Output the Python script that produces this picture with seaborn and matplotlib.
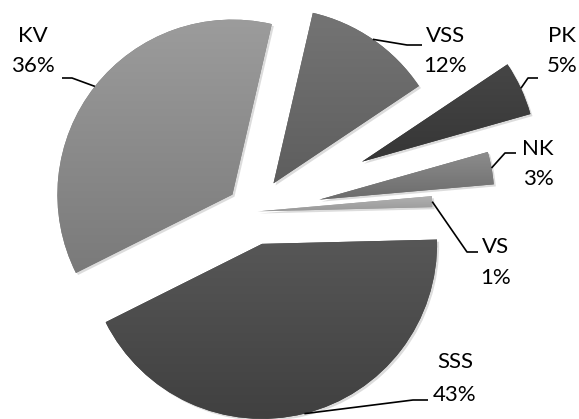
import numpy as np
import matplotlib
matplotlib.use('Agg')
import matplotlib.pyplot as plt
import matplotlib.patheffects as pe
from matplotlib.colors import LinearSegmentedColormap
import seaborn as sns

# ── Data ──────────────────────────────────────────────────────────────────
labels = ['VSS', 'PK', 'NK', 'VS', 'SSS', 'KV']
values = [12, 5, 3, 1, 43, 36]

# ── Style ─────────────────────────────────────────────────────────────────
sns.set_theme(style='white')
plt.rcParams['font.family'] = ['Lato', 'DejaVu Sans']

W, H = 579, 419
cx, cy, R = 254, 211.6, 175          # pie centre / radius in pixels

explode = [0.196, 0.68, 0.38, 0.02, 0.19, 0.157]
grads = [('#747474', '#5e5e5e'),     # VSS
         ('#464646', '#363636'),     # PK
         ('#8c8c8c', '#6c6c6c'),     # NK
         ('#b2b2b2', '#9a9a9a'),     # VS
         ('#575757', '#404040'),     # SSS
         ('#9c9c9c', '#7a7a7a')]     # KV

# label layout in pixels: text centre x, baselines of the two lines, elbow, line end
layout = {
    'VSS': (445, 42, 72, (407, 45), (422, 45)),
    'PK':  (562, 42, 72, (528, 78), (538, 78)),
    'NK':  (538, 155, 185, (505, 153), (516, 153)),
    'VS':  (496, 253, 284, (467, 252), (478, 252)),
    'SSS': (455, 368, 401, (413, 400), (428, 400)),
    'KV':  (33, 42, 72, (72, 78), (62, 78)),
}


def px(x, y):
    return (x - cx) / R, (cy - y) / R


fig = plt.figure(figsize=(W / 100, H / 100), dpi=100)
ax = fig.add_axes([0, 0, 1, 1])

wedges, _ = ax.pie(values, explode=explode, startangle=77, counterclock=False,
                   radius=1, wedgeprops=dict(linewidth=0))

for w, (c_top, c_bot) in zip(wedges, grads):
    w.set_facecolor(c_bot)
    w.set_path_effects([pe.SimplePatchShadow(offset=(1.5, -1.5), shadow_rgbFace='k', alpha=0.15),
                        pe.Normal()])
    bb = w.get_path().get_extents()
    cmap = LinearSegmentedColormap.from_list('g', [c_top, c_bot])
    grad = np.linspace(0, 1, 256).reshape(-1, 1)
    im = ax.imshow(grad, extent=(bb.x0, bb.x1, bb.y0, bb.y1), origin='upper',
                   aspect='auto', cmap=cmap, zorder=w.get_zorder() + 0.5,
                   interpolation='bilinear')
    im.set_clip_path(w)

# ── Labels with leader lines ──────────────────────────────────────────────
for w, name, val in zip(wedges, labels, values):
    mid = np.deg2rad((w.theta1 + w.theta2) / 2)
    ax_x = w.center[0] + w.r * np.cos(mid)
    ax_y = w.center[1] + w.r * np.sin(mid)
    tx, b1, b2, elbow, end = layout[name]
    ex, ey = px(*elbow)
    nx, ny = px(*end)
    ax.plot([ax_x, ex, nx], [ax_y, ey, ny], color='black', lw=1.2,
            solid_capstyle='butt', zorder=5)
    ax.text(*px(tx, b1), name, ha='center', va='baseline', fontsize=16, color='black')
    ax.text(*px(tx, b2), f'{val}%', ha='center', va='baseline', fontsize=16, color='black')

ax.set_xlim(-cx / R, (W - cx) / R)
ax.set_ylim(-(H - cy) / R, cy / R)
ax.set_aspect('auto')
ax.axis('off')

fig.savefig('out.png', dpi=100, facecolor='white')
